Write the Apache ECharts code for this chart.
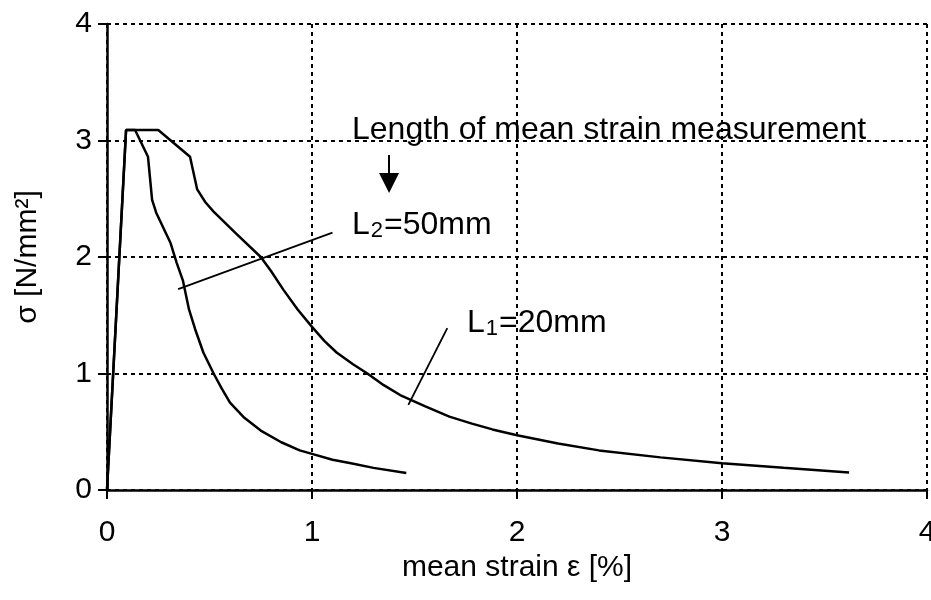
<!DOCTYPE html>
<html>
<head>
<meta charset="utf-8">
<script src="https://cdn.jsdelivr.net/npm/echarts@6/dist/echarts.min.js"></script>
<style>
  html, body { margin: 0; padding: 0; background: #fff; }
  #main { width: 931px; height: 600px; }
</style>
</head>
<body>
<div id="main"></div>
<script type="text/javascript">
// L1 = 20mm gauge length
var l1Strain = [0, 0.093, 0.25, 0.405, 0.44, 0.48, 0.52, 0.63, 0.75, 0.80, 0.86, 0.93, 1.0, 1.06, 1.12, 1.2, 1.27, 1.35, 1.43, 1.55, 1.67, 1.78, 1.88, 2.0, 2.2, 2.4, 2.7, 3.0, 3.3, 3.62];
var l1Stress = [0, 3.09, 3.09, 2.86, 2.58, 2.47, 2.39, 2.2, 2.0, 1.88, 1.72, 1.55, 1.40, 1.28, 1.18, 1.08, 1.0, 0.90, 0.815, 0.72, 0.63, 0.57, 0.52, 0.47, 0.40, 0.34, 0.28, 0.23, 0.19, 0.15];
// L2 = 50mm gauge length
var l2Strain = [0, 0.093, 0.137, 0.2, 0.22, 0.24, 0.31, 0.34, 0.37, 0.40, 0.43, 0.47, 0.52, 0.56, 0.60, 0.67, 0.75, 0.85, 0.94, 1.0, 1.1, 1.19, 1.3, 1.46];
var l2Stress = [0, 3.09, 3.09, 2.86, 2.49, 2.38, 2.12, 1.95, 1.80, 1.55, 1.38, 1.18, 1.0, 0.87, 0.75, 0.62, 0.51, 0.41, 0.34, 0.31, 0.26, 0.23, 0.19, 0.145];
// leader lines to the labels
var lead2 = [[0.347, 1.725], [1.10, 2.21]];
var lead1 = [[1.47, 0.73], [1.66, 1.39]];
// arrow under the heading
var arrowFrom = [1.376, 2.876];
var arrowTo = [1.376, 2.635];
var xTicks = [0, 1, 2, 3, 4];
var yTicks = [0, 1, 2, 3, 4];

function pairs(xs, ys) {
  var res = [];
  for (var i = 0; i < xs.length; i++) {
    res.push([xs[i], ys[i]]);
  }
  return res;
}

var font = "'Liberation Sans', Arial, sans-serif";
var chart = echarts.init(document.getElementById('main'));

var gridLine = { show: true, lineStyle: { color: '#000', width: 2, type: [4, 4] } };

chart.setOption({
  animation: false,
  backgroundColor: '#fff',
  grid: { left: 107, right: 4, top: 24, bottom: 110, outerBoundsMode: 'none', containLabel: false },
  xAxis: {
    type: 'value', min: xTicks[0], max: xTicks[xTicks.length - 1], interval: 1,
    name: 'mean strain \u03b5 [%]', nameLocation: 'middle', nameGap: 62,
    nameTextStyle: { fontFamily: font, fontSize: 30, color: '#000' },
    axisLine: { show: true, onZero: false, lineStyle: { color: '#000', width: 2.5 } },
    axisTick: { show: true, length: 9, lineStyle: { color: '#000', width: 2 } },
    axisLabel: { margin: 28, fontFamily: font, fontSize: 30, color: '#000' },
    splitLine: gridLine
  },
  yAxis: {
    type: 'value', min: yTicks[0], max: yTicks[yTicks.length - 1], interval: 1,
    name: '\u03c3 [N/mm\u00b2]', nameLocation: 'middle', nameGap: 64, nameRotate: 90,
    nameTextStyle: { fontFamily: font, fontSize: 30, color: '#000' },
    axisLine: { show: true, onZero: false, lineStyle: { color: '#000', width: 2.5 } },
    axisTick: { show: true, length: 9, lineStyle: { color: '#000', width: 2 } },
    axisLabel: { margin: 15, fontFamily: font, fontSize: 30, color: '#000' },
    splitLine: gridLine
  },
  series: [
    {
      type: 'line', name: 'L1=20mm', data: pairs(l1Strain, l1Stress),
      symbol: 'none', lineStyle: { color: '#000', width: 2.5 }, silent: true
    },
    {
      type: 'line', name: 'L2=50mm', data: pairs(l2Strain, l2Stress),
      symbol: 'none', lineStyle: { color: '#000', width: 2.5 }, silent: true
    },
    {
      type: 'line', data: lead2, symbol: 'none',
      lineStyle: { color: '#000', width: 1.8 }, silent: true
    },
    {
      type: 'line', data: lead1, symbol: 'none',
      lineStyle: { color: '#000', width: 1.8 }, silent: true,
      markLine: {
        silent: true, animation: false,
        symbol: ['none', 'triangle'], symbolSize: [20, 20],
        label: { show: false },
        lineStyle: { color: '#000', width: 2, type: 'solid' },
        data: [[{ coord: arrowFrom }, { coord: arrowTo }]]
      }
    }
  ],
  graphic: [
    {
      type: 'text', left: 352, top: 114,
      style: { text: 'Length of mean strain measurement', font: '32px ' + font, fill: '#000' }
    },
    {
      type: 'text', left: 352, top: 209,
      style: {
        text: 'L{s|2}=50mm', font: '32px ' + font, fill: '#000',
        rich: { s: { fontSize: 22, fontFamily: font, padding: [12, 1, 0, 1] } }
      }
    },
    {
      // this label sits on a white box that hides the grid behind it
      type: 'text', left: 465, top: 288,
      style: {
        text: 'L{s|1}=20mm', font: '32px ' + font, fill: '#000',
        backgroundColor: '#fff', padding: [18, 2, 8, 2],
        rich: { s: { fontSize: 22, fontFamily: font, padding: [12, 1, 0, 1] } }
      }
    }
  ]
});
</script>
</body>
</html>
